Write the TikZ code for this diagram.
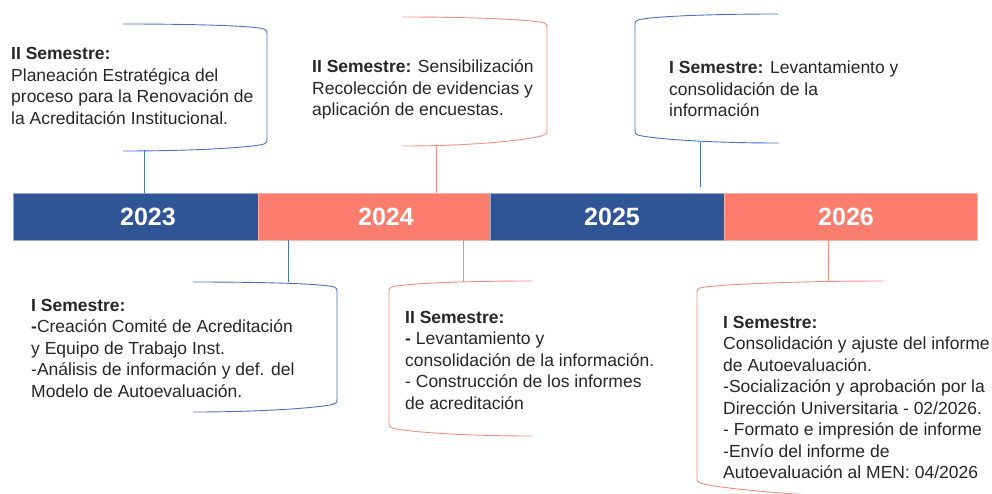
\documentclass[tikz,border=0pt]{standalone}
\usepackage{fontspec}
\setmainfont{Liberation Sans}
\usetikzlibrary{positioning}

\definecolor{barblue}{RGB}{47,85,151}
\definecolor{barsalmon}{RGB}{250,125,110}
\definecolor{lineblue}{RGB}{68,114,196}
\definecolor{linesalmon}{RGB}{248,140,128}

\tikzset{
  yearbox/.style={rectangle, minimum height=47pt, inner sep=0pt, outer sep=0pt,
    line width=0.8pt, text=white, font=\fontsize{25}{25}\selectfont\bfseries},
  bluecall/.style={draw=lineblue, line width=0.9pt},
  salmoncall/.style={draw=linesalmon, line width=0.9pt},
  % base = baseline of the last line
  semtext/.style={anchor=base west, align=left, inner sep=0pt,
    text=black!85, font=\fontsize{17.5}{21.5}\selectfont}
}

\begin{document}
\begin{tikzpicture}[x=1pt,y=-1pt]
\useasboundingbox (0,0) rectangle (992,494);

% years
\node[yearbox, fill=barblue, draw=barblue!50!white, minimum width=245pt, anchor=north west] (y2023) at (13,193) {\hspace*{25pt}2023};
\node[yearbox, fill=barsalmon, draw=barsalmon!60!white, minimum width=232pt, right=0pt of y2023] (y2024) {\hspace*{24pt}2024};
\node[yearbox, fill=barblue, draw=barblue!50!white, minimum width=234pt, right=0pt of y2024] (y2025) {\hspace*{10pt}2025};
\node[yearbox, fill=barsalmon, draw=barsalmon!60!white, minimum width=253pt, right=0pt of y2025] (y2026) {2026\hspace*{9pt}};

% 2023 - II semestre
\draw[bluecall] (123,24) .. controls (200,24) and (255,26) .. (264,29) .. controls (267,30) and (267,31) .. (267,34)
  -- (267,139) .. controls (267,142) and (267,143) .. (264,144) .. controls (255,147) and (200,151) .. (123,151);
\node[semtext] (t2023) at (11,124.5) {\textbf{II Semestre:}\\Planeación Estratégica del\\proceso para la Renovación de\\la Acreditación Institucional.};
\coordinate (k2023) at (144,150);
\draw[bluecall] (k2023) -- (k2023 |- y2023.north);

% 2024 - II semestre
\draw[salmoncall] (403,17) .. controls (480,17) and (535,20) .. (544,23) .. controls (547,24) and (547,25) .. (547,28)
  -- (547,130) .. controls (547,133) and (547,134) .. (544,135) .. controls (535,139) and (480,146) .. (403,146);
\node[semtext] (t2024) at (312,116) {\textbf{II Semestre:} Sensibilización\\Recolección de evidencias y\\aplicación de encuestas.};
\coordinate (k2024) at (436,145);
\draw[salmoncall] (k2024) -- (k2024 |- y2024.north);

% 2025 - I semestre
\draw[bluecall] (778,14) .. controls (700,14) and (647,17) .. (638,20) .. controls (635,21) and (635,22) .. (635,25)
  -- (635,130) .. controls (635,133) and (635,134) .. (638,135) .. controls (647,138) and (700,143) .. (778,143);
\node[semtext] (t2025) at (669,117) {\textbf{I Semestre:} Levantamiento y\\consolidación de la\\información};
\coordinate (k2025) at (700,142);
\draw[bluecall] (k2025) -- ([yshift=6pt]k2025 |- y2025.north);

% 2023 - I semestre
\draw[bluecall] (193,282) .. controls (270,282) and (325,284) .. (334,287) .. controls (337,288) and (337,289) .. (337,292)
  -- (337,399) .. controls (337,402) and (337,403) .. (334,404) .. controls (325,407) and (270,412) .. (193,412);
\node[semtext] (b2023) at (31,397) {\textbf{I Semestre:}\\\textbf{-}Creación Comité de Acreditación\\y Equipo de Trabajo Inst.\\-Análisis de información y def. del\\Modelo de Autoevaluación.};
\coordinate (k2023b) at (288,282);
\draw[bluecall] (y2024.south -| k2023b) -- (k2023b);

% 2024 - II semestre (abajo)
\draw[salmoncall] (532,281) .. controls (455,281) and (401,284) .. (392,287) .. controls (389,288) and (389,289) .. (389,292)
  -- (389,423) .. controls (389,426) and (389,427) .. (392,428) .. controls (401,431) and (455,436) .. (532,436);
\node[semtext] (b2024) at (405,409) {\textbf{II Semestre:}\\\textbf{-} Levantamiento y\\consolidación de la información.\\- Construcción de los informes\\de acreditación};
\coordinate (k2024b) at (463,282);
\draw[salmoncall] (y2024.south -| k2024b) -- (k2024b);

% 2026 - I semestre
\draw[salmoncall] (883,281) .. controls (790,281) and (710,285) .. (700,288) .. controls (697,289) and (697,290) .. (697,293)
  -- (697,478) .. controls (697,481) and (697,482) .. (700,483) .. controls (710,487) and (790,496) .. (883,498);
\node[semtext] (b2026) at (723,478.5) {\textbf{I Semestre:}\\Consolidación y ajuste del informe\\de Autoevaluación.\\-Socialización y aprobación por la\\Dirección Universitaria - 02/2026.\\- Formato e impresión de informe\\-Envío del informe de\\Autoevaluación al MEN: 04/2026};
\coordinate (k2026) at (828,282);
\draw[salmoncall] (y2026.south -| k2026) -- (k2026);
\end{tikzpicture}
\end{document}
